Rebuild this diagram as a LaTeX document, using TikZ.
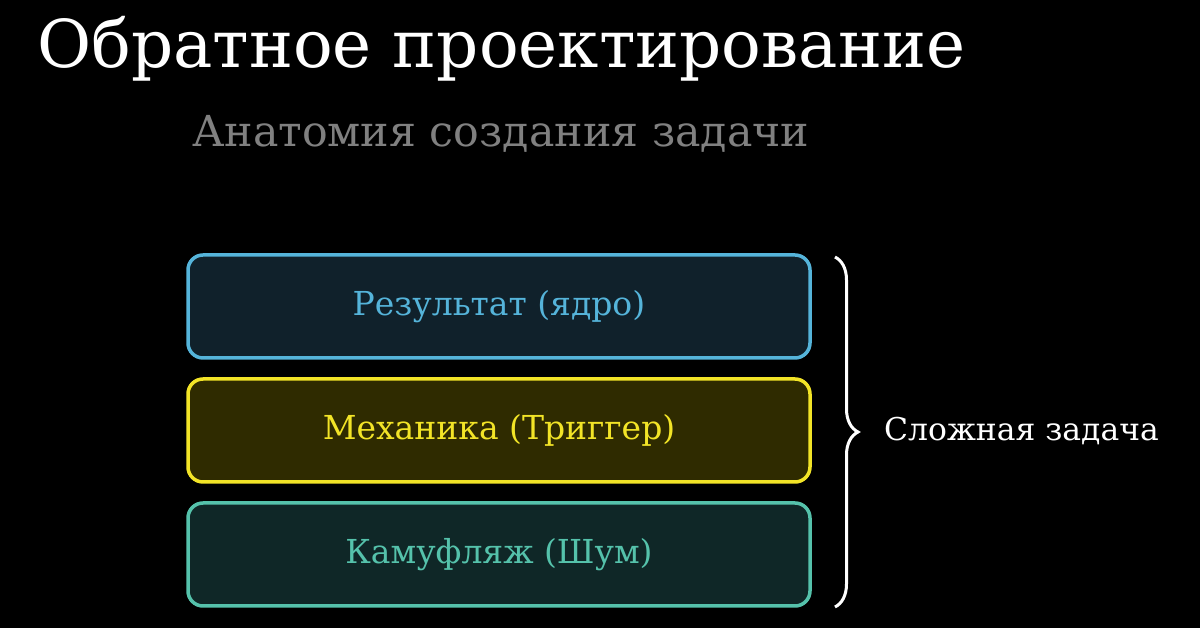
\documentclass[tikz,border=0pt]{standalone}
\usepackage{fontspec}
\setmainfont{DejaVu Serif}
\usetikzlibrary{decorations.pathreplacing}
\definecolor{bgc}{HTML}{000000}
\definecolor{subc}{HTML}{808080}
\definecolor{blueS}{HTML}{55B4DA}
\definecolor{blueF}{HTML}{10212B}
\definecolor{yelS}{HTML}{F2E427}
\definecolor{yelF}{HTML}{2F2B00}
\definecolor{tealS}{HTML}{55C2AB}
\definecolor{tealF}{HTML}{0F2727}
\tikzset{
  layer/.style={draw, line width=3.5pt, rounded corners=15pt, minimum width=622pt, minimum height=103pt, inner sep=0pt},
  layertext/.style={font=\fontsize{33}{40}\selectfont}
}
\begin{document}
\begin{tikzpicture}[x=1pt,y=1pt]
\useasboundingbox (0,0) rectangle (1200,628);
\fill[bgc] (0,0) rectangle (1200,628);
\node[anchor=base west, inner sep=0pt, text=white, font=\fontsize{66}{78}\selectfont] (title) at (37,560) {Обратное проектирование};
\node[anchor=base west, inner sep=0pt, text=subc, font=\fontsize{42.7}{50}\selectfont] (sub) at (192,481) {Анатомия создания задачи};
\node[layer, draw=blueS, fill=blueF, text=blueS, layertext] (core) at (499,321.5) {Результат (ядро)};
\node[layer, draw=yelS, fill=yelF, text=yelS, layertext] (mech) at (499,197.5) {Механика (Триггер)};
\node[layer, draw=tealS, fill=tealF, text=tealS, layertext] (noise) at (499,73.5) {Камуфляж (Шум)};
\coordinate (btop) at (835,371);
\coordinate (bbot) at (835,21);
\draw[white, line width=3pt, decorate, decoration={brace, amplitude=23pt}] (btop) -- (bbot);
\node[anchor=base west, inner sep=0pt, text=white, font=\fontsize{31.4}{38}\selectfont] (task) at (884,187) {Сложная задача};
\end{tikzpicture}
\end{document}
